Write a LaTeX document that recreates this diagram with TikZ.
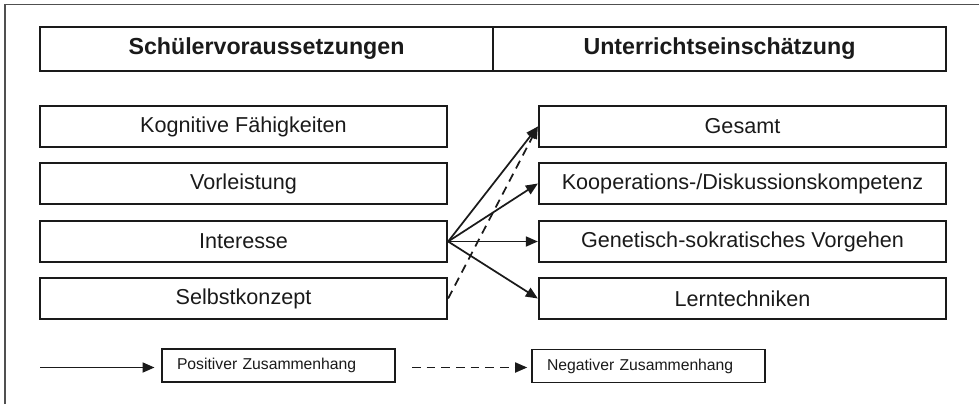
\documentclass[tikz,border=0pt]{standalone}
\usepackage{fontspec}
\setmainfont{Liberation Sans}
\usetikzlibrary{arrows.meta}
\definecolor{ink}{HTML}{1A1A1A}
\definecolor{framec}{HTML}{505050}
\tikzset{
  box/.style={draw=ink, line width=1.7pt, text=ink, minimum height=30.75pt, minimum width=305.25pt, inner sep=0pt, font=\fontsize{16.2}{18}\selectfont},
  headbox/.style={draw=ink, line width=1.7pt, text=ink, minimum height=33pt, minimum width=339.75pt, inner sep=0pt, font=\fontsize{17.4}{20}\selectfont\bfseries},
  legbox/.style={draw=ink, line width=1.2pt, text=ink, minimum height=25pt, minimum width=174.75pt, inner sep=0pt, text width=152.25pt, align=left, font=\fontsize{11.8}{13}\selectfont},
  conn/.style={draw=ink, line width=1.3pt, -{Triangle[length=9pt,width=7.5pt]}},
  dconn/.style={conn, dash pattern=on 6.5pt off 4.5pt},
}
\begin{document}
\begin{tikzpicture}[x=0.75pt,y=-0.75pt]
\useasboundingbox (0,0) rectangle (979,404);
% outer frame (only top and left visible)
\draw[framec, line width=1pt] (5,404) -- (5,4.5) -- (979,4.5);
% header
\node[headbox] (h1) at (266.5,49) {Schülervoraussetzungen};
\node[headbox] (h2) at (719.5,49) {Unterrichtseinschätzung};
% left column
\node[box] (kog) at (243.5,126.5) {Kognitive Fähigkeiten};
\node[box] (vor) at (243.5,183.5) {Vorleistung};
\node[box] (int) at (243.5,241.5) {Interesse};
\node[box] (sel) at (243.5,298.5) {Selbstkonzept};
% right column
\node[box] (ges) at (742.5,126.5) {Gesamt};
\node[box] (koo) at (742.5,183.5) {Kooperations-/Diskussionskompetenz};
\node[box] (gen) at (742.5,241.5) {Genetisch-sokratisches Vorgehen};
\node[box] (ler) at (742.5,298.5) {Lerntechniken};
% connectors
\draw[conn] (int.east) -- (ges.west);
\draw[conn] (int.east) -- (koo.west);
\draw[conn] (int.east) -- (gen.west);
\draw[conn] (int.east) -- (ler.west);
\draw[dconn] (sel.east) -- (ges.west);
% legend
\node[legbox] (pos) at (278.5,365.5) {Positiver Zusammenhang};
\node[legbox] (neg) at (648.5,366) {Negativer Zusammenhang};
\coordinate (p0) at (40,367.5);
\coordinate (n0) at (412,367.5);
\draw[conn, shorten >=5pt] (p0) -- (p0 -| pos.west);
\draw[dconn, shorten >=3pt] (n0) -- (n0 -| neg.west);
\end{tikzpicture}
\end{document}
